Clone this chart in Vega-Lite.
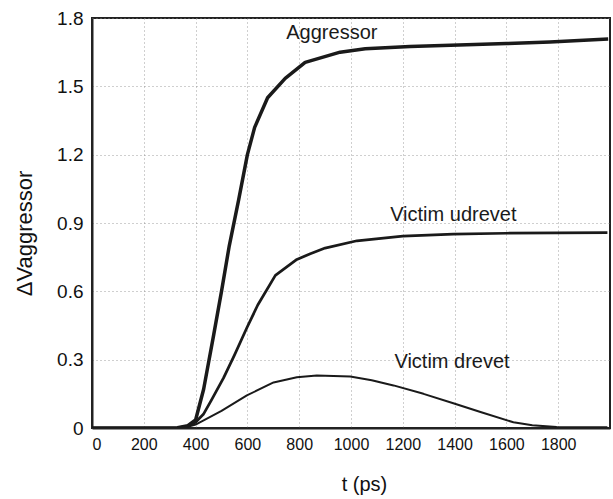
{
  "$schema": "https://vega.github.io/schema/vega-lite/v6.json",
  "autosize": "none",
  "width": 518,
  "height": 410,
  "padding": {"left": 92, "top": 18, "right": 3, "bottom": 71},
  "background": "white",
  "config": {
    "view": {"stroke": "#222", "strokeWidth": 2},
    "font": "Liberation Sans",
    "axis": {
      "domainColor": "#222", "domainWidth": 2,
      "gridColor": "#888", "gridDash": [1, 3], "gridWidth": 1, "gridOpacity": 0.8,
      "ticks": false, "labelColor": "#111", "titleColor": "#111",
      "labelFont": "Liberation Sans", "titleFont": "Liberation Sans", "titleFontWeight": "normal"
    }
  },
  "datasets": {
    "curves": [
      {"t": 0, "v": 0, "s": "Aggressor"}, {"t": 200, "v": 0, "s": "Aggressor"}, {"t": 330, "v": 0.001, "s": "Aggressor"},
      {"t": 370, "v": 0.01, "s": "Aggressor"}, {"t": 400, "v": 0.035, "s": "Aggressor"}, {"t": 431, "v": 0.17, "s": "Aggressor"},
      {"t": 470, "v": 0.41, "s": "Aggressor"}, {"t": 500, "v": 0.6, "s": "Aggressor"}, {"t": 530, "v": 0.8, "s": "Aggressor"},
      {"t": 566, "v": 1.0, "s": "Aggressor"}, {"t": 600, "v": 1.2, "s": "Aggressor"}, {"t": 628, "v": 1.32, "s": "Aggressor"},
      {"t": 678, "v": 1.45, "s": "Aggressor"}, {"t": 746, "v": 1.535, "s": "Aggressor"}, {"t": 823, "v": 1.605, "s": "Aggressor"},
      {"t": 958, "v": 1.65, "s": "Aggressor"}, {"t": 1055, "v": 1.665, "s": "Aggressor"}, {"t": 1228, "v": 1.675, "s": "Aggressor"},
      {"t": 1447, "v": 1.683, "s": "Aggressor"}, {"t": 1600, "v": 1.688, "s": "Aggressor"}, {"t": 1768, "v": 1.695, "s": "Aggressor"},
      {"t": 1993, "v": 1.708, "s": "Aggressor"},
      {"t": 0, "v": 0, "s": "Victim udrevet"}, {"t": 200, "v": 0, "s": "Victim udrevet"}, {"t": 330, "v": 0.001, "s": "Victim udrevet"},
      {"t": 370, "v": 0.008, "s": "Victim udrevet"}, {"t": 400, "v": 0.025, "s": "Victim udrevet"}, {"t": 430, "v": 0.06, "s": "Victim udrevet"},
      {"t": 460, "v": 0.12, "s": "Victim udrevet"}, {"t": 508, "v": 0.22, "s": "Victim udrevet"}, {"t": 550, "v": 0.32, "s": "Victim udrevet"},
      {"t": 598, "v": 0.44, "s": "Victim udrevet"}, {"t": 640, "v": 0.54, "s": "Victim udrevet"}, {"t": 708, "v": 0.67, "s": "Victim udrevet"},
      {"t": 791, "v": 0.74, "s": "Victim udrevet"}, {"t": 843, "v": 0.765, "s": "Victim udrevet"}, {"t": 900, "v": 0.79, "s": "Victim udrevet"},
      {"t": 1023, "v": 0.822, "s": "Victim udrevet"}, {"t": 1200, "v": 0.842, "s": "Victim udrevet"}, {"t": 1395, "v": 0.851, "s": "Victim udrevet"},
      {"t": 1600, "v": 0.855, "s": "Victim udrevet"}, {"t": 1800, "v": 0.857, "s": "Victim udrevet"}, {"t": 1990, "v": 0.858, "s": "Victim udrevet"},
      {"t": 0, "v": 0, "s": "Victim drevet"}, {"t": 200, "v": 0, "s": "Victim drevet"}, {"t": 330, "v": 0.001, "s": "Victim drevet"},
      {"t": 370, "v": 0.005, "s": "Victim drevet"}, {"t": 400, "v": 0.015, "s": "Victim drevet"}, {"t": 431, "v": 0.033, "s": "Victim drevet"},
      {"t": 500, "v": 0.075, "s": "Victim drevet"}, {"t": 598, "v": 0.143, "s": "Victim drevet"}, {"t": 701, "v": 0.2, "s": "Victim drevet"},
      {"t": 791, "v": 0.223, "s": "Victim drevet"}, {"t": 868, "v": 0.23, "s": "Victim drevet"}, {"t": 997, "v": 0.226, "s": "Victim drevet"},
      {"t": 1080, "v": 0.21, "s": "Victim drevet"}, {"t": 1164, "v": 0.187, "s": "Victim drevet"}, {"t": 1280, "v": 0.15, "s": "Victim drevet"},
      {"t": 1395, "v": 0.109, "s": "Victim drevet"}, {"t": 1500, "v": 0.07, "s": "Victim drevet"}, {"t": 1627, "v": 0.025, "s": "Victim drevet"},
      {"t": 1700, "v": 0.012, "s": "Victim drevet"}, {"t": 1794, "v": 0.004, "s": "Victim drevet"}, {"t": 1990, "v": 0.003, "s": "Victim drevet"}
    ],
    "labels": [
      {"t": 926, "v": 1.732, "label": "Aggressor"},
      {"t": 1395, "v": 0.933, "label": "Victim udrevet"},
      {"t": 1390, "v": 0.29, "label": "Victim drevet"}
    ]
  },
  "layer": [
    {
      "data": {"name": "curves"},
      "mark": {"type": "line", "color": "#1a1a1a", "strokeJoin": "round", "clip": true},
      "encoding": {
        "x": {"field": "t", "type": "quantitative",
          "scale": {"domain": [0, 2000], "nice": false, "zero": false},
          "axis": {"values": [0, 200, 400, 600, 800, 1000, 1200, 1400, 1600, 1800], "format": "d", "title": "t (ps)",
            "labelFontSize": 16, "labelPadding": 8, "titleFontSize": 20,
            "titleX": 272, "titleY": 56, "titleBaseline": "middle", "titleAnchor": "middle"}},
        "y": {"field": "v", "type": "quantitative",
          "scale": {"domain": [0, 1.8], "nice": false},
          "axis": {"values": [0, 0.3, 0.6, 0.9, 1.2, 1.5, 1.8], "title": "ΔVaggressor",
            "labelFontSize": 19, "labelPadding": 9,
            "labelExpr": "datum.value == 0 ? '0' : format(datum.value, '.1f')",
            "titleFontSize": 22, "titleAngle": 270, "titleX": -68, "titleY": 215,
            "titleBaseline": "middle", "titleAlign": "center"}},
        "detail": {"field": "s", "type": "nominal"},
        "strokeWidth": {"field": "s", "type": "nominal",
          "scale": {"domain": ["Aggressor", "Victim udrevet", "Victim drevet"], "range": [3.5, 2, 2]},
          "legend": null}
      }
    },
    {
      "data": {"name": "labels"},
      "mark": {"type": "text", "fontSize": 20, "font": "Liberation Sans", "color": "#1a1a1a", "align": "center", "baseline": "middle"},
      "encoding": {
        "x": {"field": "t", "type": "quantitative"},
        "y": {"field": "v", "type": "quantitative"},
        "text": {"field": "label", "type": "nominal"}
      }
    }
  ]
}
